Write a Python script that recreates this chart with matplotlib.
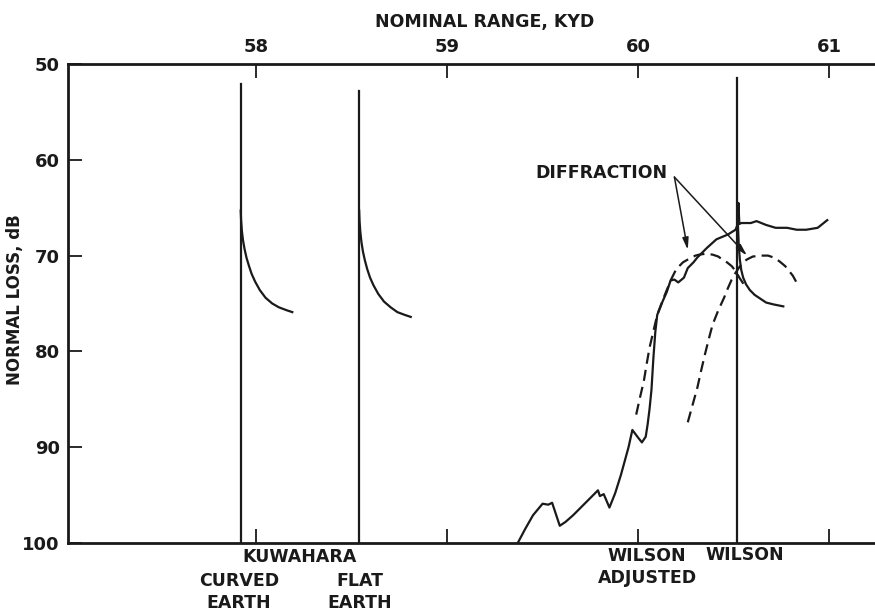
import matplotlib.pyplot as plt
from matplotlib import font_manager

# --- data (range in kyd, loss in dB) ---
kuwahara_curved_x = [57.92, 57.922, 57.926, 57.932, 57.94, 57.95, 57.962, 57.977, 57.995,
                     58.02, 58.05, 58.085, 58.12, 58.16, 58.19]
kuwahara_curved_y = [65.3, 66.3, 67.4, 68.4, 69.3, 70.2, 71.0, 71.9, 72.7,
                     73.6, 74.4, 75.0, 75.4, 75.7, 75.9]
kuwahara_flat_x = [58.54, 58.542, 58.546, 58.552, 58.56, 58.57, 58.582, 58.597, 58.615,
                   58.64, 58.67, 58.705, 58.74, 58.78, 58.81]
kuwahara_flat_y = [65.3, 66.4, 67.5, 68.6, 69.6, 70.5, 71.4, 72.3, 73.1,
                   74.0, 74.8, 75.4, 75.9, 76.2, 76.4]

measured_x = [59.37, 59.41, 59.45, 59.50, 59.53, 59.55, 59.59, 59.62, 59.66, 59.72,
              59.79, 59.80, 59.82, 59.85, 59.88, 59.91, 59.95, 59.97, 60.0, 60.02,
              60.04, 60.05, 60.06, 60.07, 60.08, 60.09, 60.10, 60.13, 60.15,
              60.17, 60.19, 60.21, 60.24, 60.26, 60.29, 60.31, 60.36, 60.41, 60.47,
              60.51, 60.52, 60.525, 60.53, 60.54, 60.59, 60.62, 60.67, 60.72, 60.78,
              60.83, 60.88, 60.94, 60.99]
measured_y = [100.0, 98.5, 97.1, 95.9, 96.0, 95.8, 98.2, 97.8, 97.1, 95.9,
              94.5, 95.1, 94.9, 96.3, 94.8, 92.9, 90.0, 88.2, 89.0, 89.5,
              88.9, 87.6, 86.0, 84.0, 80.7, 78.0, 76.2, 74.7, 73.8,
              72.6, 72.5, 72.8, 72.3, 71.3, 70.7, 70.2, 69.2, 68.3, 67.8,
              67.3, 66.8, 64.5, 66.7, 66.6, 66.6, 66.4, 66.8, 67.1, 67.1,
              67.3, 67.3, 67.1, 66.3]

wilson_adj_x = [59.99, 60.01, 60.03, 60.045, 60.06, 60.08, 60.10, 60.13, 60.15, 60.175,
                60.20, 60.235, 60.27, 60.30, 60.32, 60.355, 60.39, 60.42, 60.44, 60.465,
                60.49, 60.51, 60.53, 60.56]
wilson_adj_y = [86.6, 84.8, 83.1, 81.3, 79.6, 77.9, 76.2, 74.6, 73.6, 72.4,
                71.4, 70.7, 70.3, 70.0, 69.9, 69.8, 69.9, 70.1, 70.4, 70.7,
                71.1, 71.6, 72.3, 73.2]

wilson_diff_x = [60.26, 60.285, 60.31, 60.33, 60.35, 60.37, 60.39, 60.42, 60.45, 60.47,
                 60.49, 60.51, 60.53, 60.55, 60.57, 60.60, 60.64, 60.68, 60.71, 60.74,
                 60.77, 60.79, 60.81, 60.84]
wilson_diff_y = [87.4, 85.6, 83.8, 82.0, 80.3, 78.7, 77.2, 75.7, 74.4, 73.4,
                 72.5, 71.8, 71.2, 70.7, 70.4, 70.1, 70.0, 70.0, 70.2, 70.6,
                 71.1, 71.6, 72.1, 73.2]

wilson_decay_x = [60.52, 60.523, 60.527, 60.533, 60.54, 60.55, 60.565, 60.585, 60.61,
                  60.64, 60.67, 60.71, 60.76]
wilson_decay_y = [65.0, 67.0, 69.0, 70.5, 71.5, 72.3, 73.0, 73.6, 74.1,
                  74.5, 74.9, 75.1, 75.3]

# vertical marker lines: position, top of line
markers_x = [57.92, 58.54, 60.52]
markers_top = [52.1, 52.8, 51.5]

top_ticks = [58, 59, 60, 61]
left_ticks = [50, 60, 70, 80, 90, 100]

# pick a narrow bold face if there is one
names = {f.name for f in font_manager.fontManager.ttflist}
FAM = ["Liberation Sans Narrow", "DejaVu Sans"] if "Liberation Sans Narrow" in names else ["DejaVu Sans"]
plt.rcParams["font.family"] = FAM
plt.rcParams["font.weight"] = "bold"

INK = "#1a1a1a"
LW = 1.6
DASH = (0, (5, 2.8))

fig = plt.figure(figsize=(8.75, 6.11), dpi=100)
ax = fig.add_axes([68 / 875, (611 - 543) / 611, (875 - 68) / 875, (543 - 64) / 611])

for xs, ys in [(kuwahara_curved_x, kuwahara_curved_y), (kuwahara_flat_x, kuwahara_flat_y),
               (measured_x, measured_y), (wilson_decay_x, wilson_decay_y)]:
    ax.plot(xs, ys, color=INK, lw=LW, solid_joinstyle="round")
ax.plot(wilson_adj_x, wilson_adj_y, color=INK, lw=LW, ls=DASH)
ax.plot(wilson_diff_x, wilson_diff_y, color=INK, lw=LW, ls=DASH)

for mx, mt in zip(markers_x, markers_top):
    ax.plot([mx, mx], [mt, 100], color=INK, lw=LW)

# DIFFRACTION callout
ax.text(60.155, 61.4, "DIFFRACTION", ha="right", va="center", fontsize=12.5, color=INK)
tail = (60.19, 61.8)
for tip in [(60.26, 69.4), (60.57, 70.0)]:
    ax.annotate("", xy=tip, xytext=tail,
                arrowprops=dict(arrowstyle="-|>,head_length=0.7,head_width=0.18",
                                color=INK, lw=1.1, shrinkA=0, shrinkB=0))

ax.set_xlim(57.016, 61.24)
ax.set_ylim(100, 50)

ax.xaxis.tick_top()
ax.set_xticks(top_ticks)
ax.set_yticks(left_ticks)
ax.tick_params(axis="x", which="both", direction="in", length=10, width=1.3,
               top=True, bottom=True, labeltop=True, labelbottom=False,
               labelsize=13, pad=6, colors=INK)
ax.tick_params(axis="y", direction="in", length=10, width=1.3, left=True, right=False,
               labelsize=13, pad=6, colors=INK)

for s in ["left", "top", "bottom"]:
    ax.spines[s].set_linewidth(2.0)
    ax.spines[s].set_color(INK)
ax.spines["right"].set_visible(False)

fig.text(485 / 875, 1 - 22 / 611, "NOMINAL RANGE, KYD", ha="center", va="center",
         fontsize=12.5, color=INK)
fig.text(15 / 875, 1 - 300 / 611, "NORMAL LOSS, dB", ha="center", va="center",
         rotation=90, fontsize=12, color=INK)

# model labels under the axis
labels = [("KUWAHARA", 300, 557), ("CURVED\nEARTH", 239, 592), ("FLAT\nEARTH", 360, 592),
          ("WILSON\nADJUSTED", 647, 567), ("WILSON", 745, 555)]
for txt, px, py in labels:
    fig.text(px / 875, 1 - py / 611, txt, ha="center", va="center", fontsize=12.5,
             color=INK, linespacing=1.25)

fig.savefig("out.png", dpi=100)
